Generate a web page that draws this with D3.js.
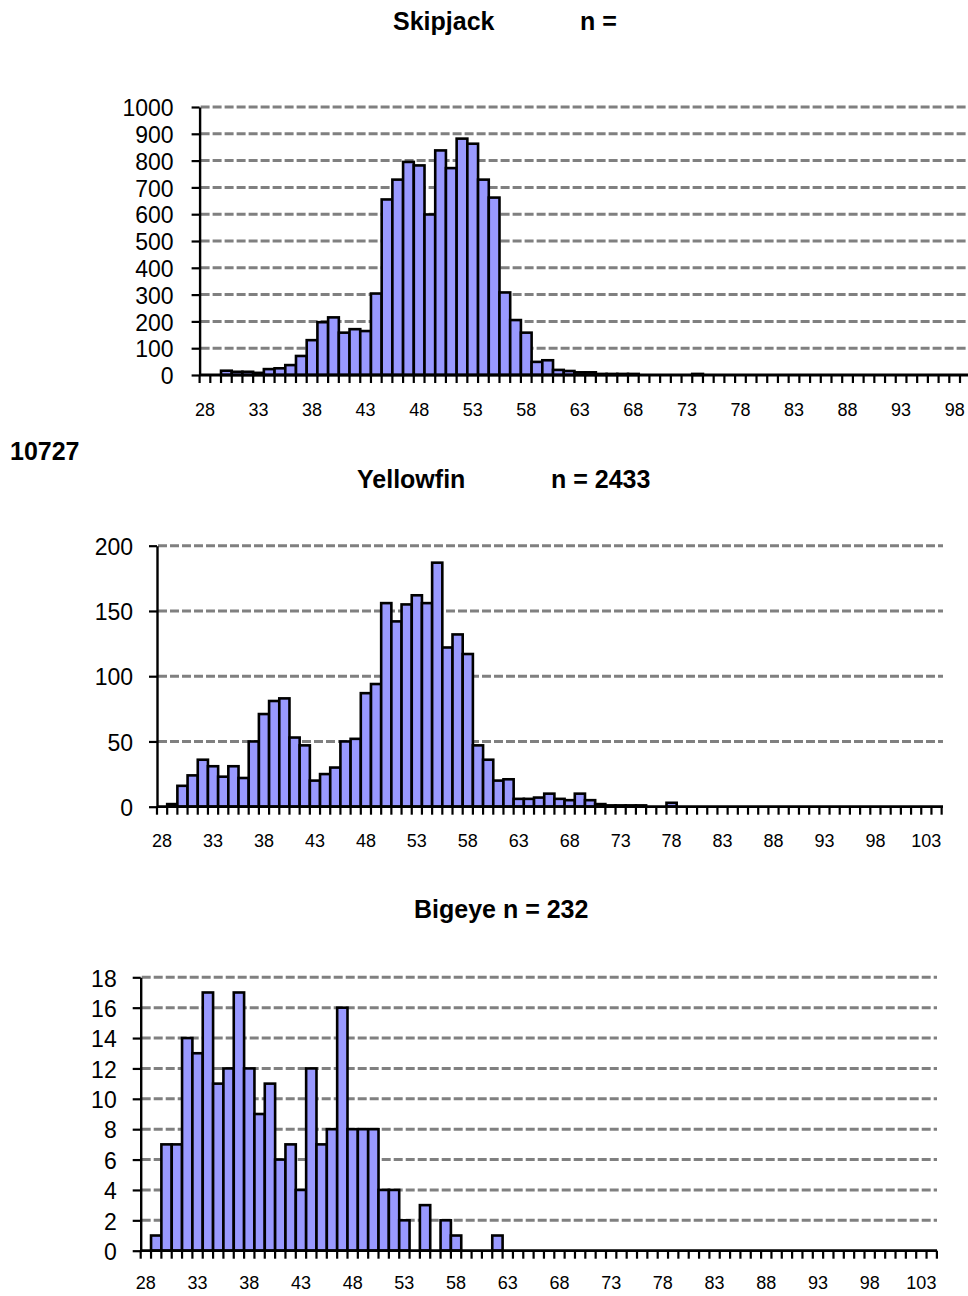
<!DOCTYPE html>
<html>
<head>
<meta charset="utf-8">
<script src="https://cdn.jsdelivr.net/npm/d3@7"></script>
<style>
  body { margin: 0; background: #fff; }
  text { font-family: "Liberation Sans", Arial, sans-serif; }
</style>
</head>
<body>
<script>
// ---------- DATA ----------
const skipjackCats = [28,29,30,31,32,33,34,35,36,37,38,39,40,41,42,43,44,45,46,47,48,49,50,51,52,53,54,55,56,57,58,59,60,61,62,63,64,65,66,67,68,69,70,71,72,73,74,75,76,77,78,79,80,81,82,83,84,85,86,87,88,89,90,91,92,93,94,95,96,97,98,99];
const skipjackValues = [0,0,16,12,12,8,22,25,37,71,130,197,215,158,171,164,304,655,729,795,782,599,838,772,882,863,729,662,308,205,158,49,55,19,15,10,10,4,4,4,4,0,0,0,0,0,4,0,0,0,0,0,0,0,0,0,0,0,0,0,0,0,0,0,0,0,0,0,0,0,0,0];
const skipjackYTicks = [0,100,200,300,400,500,600,700,800,900,1000];
const skipjackXLabels = [28,33,38,43,48,53,58,63,68,73,78,83,88,93,98];

const yellowfinCats = [28,29,30,31,32,33,34,35,36,37,38,39,40,41,42,43,44,45,46,47,48,49,50,51,52,53,54,55,56,57,58,59,60,61,62,63,64,65,66,67,68,69,70,71,72,73,74,75,76,77,78,79,80,81,82,83,84,85,86,87,88,89,90,91,92,93,94,95,96,97,98,99,100,101,102,103,104];
const yellowfinValues = [0,2,16,24,36,31,23,31,22,50,71,81,83,53,47,20,25,30,50,52,87,94,156,142,155,162,156,187,122,132,117,47,36,20,21,6,6,7,10,6,5,10,5,2,1,1,1,1,0,0,3,0,0,0,0,0,0,0,0,0,0,0,0,0,0,0,0,0,0,0,0,0,0,0,0,0,0];
const yellowfinYTicks = [0,50,100,150,200];
const yellowfinXLabels = [28,33,38,43,48,53,58,63,68,73,78,83,88,93,98,103];

const bigeyeCats = [28,29,30,31,32,33,34,35,36,37,38,39,40,41,42,43,44,45,46,47,48,49,50,51,52,53,54,55,56,57,58,59,60,61,62,63,64,65,66,67,68,69,70,71,72,73,74,75,76,77,78,79,80,81,82,83,84,85,86,87,88,89,90,91,92,93,94,95,96,97,98,99,100,101,102,103,104];
const bigeyeValues = [0,1,7,7,14,13,17,11,12,17,12,9,11,6,7,4,12,7,8,16,8,8,8,4,4,2,0,3,0,2,1,0,0,0,1,0,0,0,0,0,0,0,0,0,0,0,0,0,0,0,0,0,0,0,0,0,0,0,0,0,0,0,0,0,0,0,0,0,0,0,0,0,0,0,0,0,0];
const bigeyeYTicks = [0,2,4,6,8,10,12,14,16,18];
const bigeyeXLabels = [28,33,38,43,48,53,58,63,68,73,78,83,88,93,98,103];

// ---------- DRAW ----------
const W = 968, H = 1296;
const svg = d3.select("body").append("svg").attr("width", W).attr("height", H);

function titleText(x, y, s) {
  svg.append("text").attr("x", x).attr("y", y)
    .attr("font-size", 25).attr("font-weight", "bold").attr("fill", "#000").text(s);
}

function drawChart(cfg) {
  const g = svg.append("g");
  const x = d3.scaleBand().domain(cfg.cats)
    .range([cfg.x0, cfg.x0 + cfg.cats.length * cfg.bw]).padding(0);
  const y = d3.scaleLinear().domain([0, cfg.yMax]).range([cfg.yBase, cfg.yTop]);
  const base = y(0);

  // gridlines
  g.selectAll("line.grid").data(cfg.yTicks.filter(v => v > 0)).join("line")
    .attr("class", "grid")
    .attr("x1", cfg.x0 + 1).attr("x2", cfg.gridEnd)
    .attr("y1", d => y(d)).attr("y2", d => y(d))
    .attr("stroke", "#808080").attr("stroke-width", 3)
    .attr("stroke-dasharray", "9,3");

  // bars
  const data = cfg.cats.map((c, i) => ({ c, v: cfg.values[i] })).filter(d => d.v > 0);
  g.selectAll("rect.bar").data(data).join("rect")
    .attr("class", "bar")
    .attr("x", d => x(d.c)).attr("y", d => y(d.v))
    .attr("width", x.bandwidth()).attr("height", d => base - y(d.v))
    .attr("fill", "#9999FF").attr("stroke", "#000").attr("stroke-width", 2.6);

  // x tick marks at category boundaries
  const bounds = cfg.cats.map(c => x(c)).concat([x.range()[1]]).filter(v => v <= cfg.gridEnd + 0.5);
  g.selectAll("line.xt").data(bounds).join("line")
    .attr("class", "xt")
    .attr("x1", d => d).attr("x2", d => d)
    .attr("y1", base).attr("y2", base + 8)
    .attr("stroke", "#000").attr("stroke-width", 2.2);

  // x baseline
  g.append("line").attr("x1", cfg.x0).attr("x2", cfg.gridEnd)
    .attr("y1", base).attr("y2", base)
    .attr("stroke", "#000").attr("stroke-width", 2.8);

  // x labels via axis
  const xa = g.append("g").attr("transform", `translate(0,${base})`)
    .call(d3.axisBottom(x).tickValues(cfg.xLabels).tickSize(0).tickPadding(cfg.xPad));
  xa.select(".domain").remove();
  xa.selectAll("text").attr("font-size", 18).attr("fill", "#000")
    .attr("font-family", "'Liberation Sans', Arial, sans-serif");

  // y axis
  const ya = g.append("g").attr("transform", `translate(${cfg.x0},0)`)
    .call(d3.axisLeft(y).tickValues(cfg.yTicks).tickFormat(d3.format("d"))
      .tickSize(8).tickSizeOuter(0).tickPadding(cfg.yPad));
  ya.select(".domain").attr("stroke", "#000").attr("stroke-width", 2.4);
  ya.selectAll(".tick line").attr("stroke", "#000").attr("stroke-width", 2.2);
  ya.selectAll("text").attr("font-size", 23).attr("fill", "#000")
    .attr("font-family", "'Liberation Sans', Arial, sans-serif").attr("dy", "0.38em");
}

// Titles
titleText(393, 29.5, "Skipjack");
titleText(580, 29.5, "n =");
titleText(10, 460, "10727");
titleText(357, 488, "Yellowfin");
titleText(551, 488, "n = 2433");
titleText(414, 917.5, "Bigeye n = 232");

drawChart({ cats: skipjackCats, values: skipjackValues, yTicks: skipjackYTicks, xLabels: skipjackXLabels,
  x0: 199.6, bw: 10.71, gridEnd: 968, yBase: 375, yTop: 107, yMax: 1000, xPad: 28, yPad: 18 });

drawChart({ cats: yellowfinCats, values: yellowfinValues, yTicks: yellowfinYTicks, xLabels: yellowfinXLabels,
  x0: 157, bw: 10.19, gridEnd: 943, yBase: 806.7, yTop: 545.7, yMax: 200, xPad: 28, yPad: 16 });

drawChart({ cats: bigeyeCats, values: bigeyeValues, yTicks: bigeyeYTicks, xLabels: bigeyeXLabels,
  x0: 140.7, bw: 10.34, gridEnd: 937, yBase: 1250.7, yTop: 977.3, yMax: 18, xPad: 26, yPad: 16 });
</script>
</body>
</html>
